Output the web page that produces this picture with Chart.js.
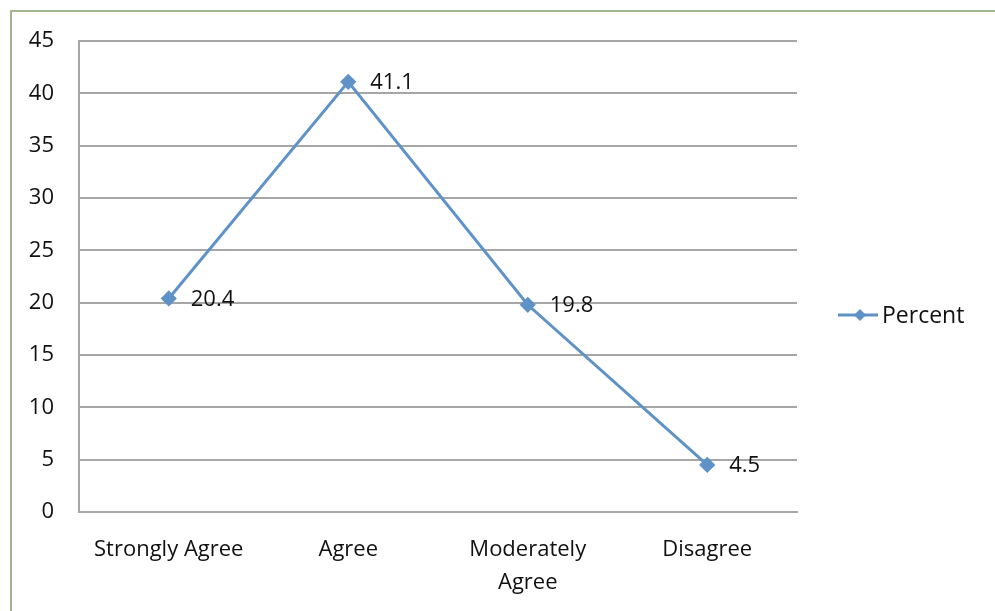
<!DOCTYPE html>
<html>
<head>
<meta charset="utf-8">
<script src="https://cdn.jsdelivr.net/npm/chart.js@4"></script>
<style>
  html, body { margin: 0; padding: 0; background: #ffffff; }
  #wrap { width: 995px; height: 611px; }
</style>
</head>
<body>
<div id="wrap"><canvas id="grafica" width="995" height="611"></canvas></div>
<script>
// datos
const categorias = ['Strongly Agree', 'Agree', ['Moderately', 'Agree'], 'Disagree'];
const porcentajes = [20.4, 41.1, 19.8, 4.5];
const nombreSerie = 'Percent';
const ticksY = [0, 5, 10, 15, 20, 25, 30, 35, 40, 45];

const FUENTE = '"Open Sans", "Liberation Sans", sans-serif';
const AZUL = '#5f92c6';
const TEXTO = '#111111';

// marco verde alrededor del grafico
const marco = {
    id: 'marco',
    beforeDraw(chart) {
        const ctx = chart.ctx;
        ctx.save();
        ctx.strokeStyle = '#a3b58c';
        ctx.lineWidth = 2;
        ctx.strokeRect(11, 11, 1000, 700);
        ctx.restore();
    }
};

// etiquetas de valor a la derecha de cada punto
const etiquetas = {
    id: 'etiquetas',
    afterDatasetsDraw(chart) {
        const ctx = chart.ctx;
        const meta = chart.getDatasetMeta(0);
        ctx.save();
        ctx.font = '22px ' + FUENTE;
        ctx.fillStyle = TEXTO;
        ctx.textBaseline = 'middle';
        ctx.textAlign = 'left';
        meta.data.forEach((p, i) => {
            ctx.fillText(String(porcentajes[i]), p.x + 22, p.y + 1);
        });
        ctx.restore();
    }
};

// leyenda a la derecha (linea + rombo)
const leyenda = {
    id: 'leyenda',
    afterDraw(chart) {
        const ctx = chart.ctx;
        const ds = chart.data.datasets[0];
        const y = 315;
        ctx.save();
        ctx.strokeStyle = ds.borderColor;
        ctx.lineWidth = 3;
        ctx.beginPath();
        ctx.moveTo(838, y);
        ctx.lineTo(878, y);
        ctx.stroke();
        ctx.fillStyle = ds.pointBackgroundColor;
        ctx.beginPath();
        ctx.moveTo(860, y - 6);
        ctx.lineTo(866, y);
        ctx.lineTo(860, y + 6);
        ctx.lineTo(854, y);
        ctx.closePath();
        ctx.fill();
        ctx.font = '23px ' + FUENTE;
        ctx.fillStyle = TEXTO;
        ctx.textBaseline = 'middle';
        ctx.fillText(nombreSerie, 882, y + 1);
        ctx.restore();
    }
};

const ctx = document.getElementById('grafica').getContext('2d');
const miGrafica = new Chart(ctx, {
    type: 'line',
    data: {
        labels: categorias,
        datasets: [{
            label: nombreSerie,
            data: porcentajes,
            borderColor: AZUL,
            backgroundColor: AZUL,
            pointBackgroundColor: AZUL,
            pointBorderColor: AZUL,
            borderWidth: 3,
            pointStyle: 'rectRot',
            pointRadius: 6,
            tension: 0
        }]
    },
    options: {
        responsive: false,
        animation: false,
        devicePixelRatio: 1,
        layout: { padding: { top: 41, right: 198, bottom: 0, left: 0 } },
        plugins: {
            legend: { display: false },
            tooltip: { enabled: false }
        },
        scales: {
            x: {
                offset: true,
                grid: { display: false, drawTicks: false },
                border: { color: '#a6a6a6', width: 2 },
                ticks: {
                    color: TEXTO,
                    font: { family: FUENTE, size: 22, lineHeight: 1.5 },
                    padding: 21,
                    maxRotation: 0
                },
                afterFit(scale) { scale.height = 99; }
            },
            y: {
                min: 0,
                max: 45,
                afterBuildTicks(scale) { scale.ticks = ticksY.map(v => ({ value: v })); },
                grid: { color: '#a6a6a6', lineWidth: 2, drawTicks: false },
                border: { color: '#a6a6a6', width: 2 },
                ticks: {
                    color: TEXTO,
                    font: { family: FUENTE, size: 22 },
                    padding: 25
                },
                afterFit(scale) { scale.width = 79; }
            }
        }
    },
    plugins: [marco, etiquetas, leyenda]
});
</script>
</body>
</html>
